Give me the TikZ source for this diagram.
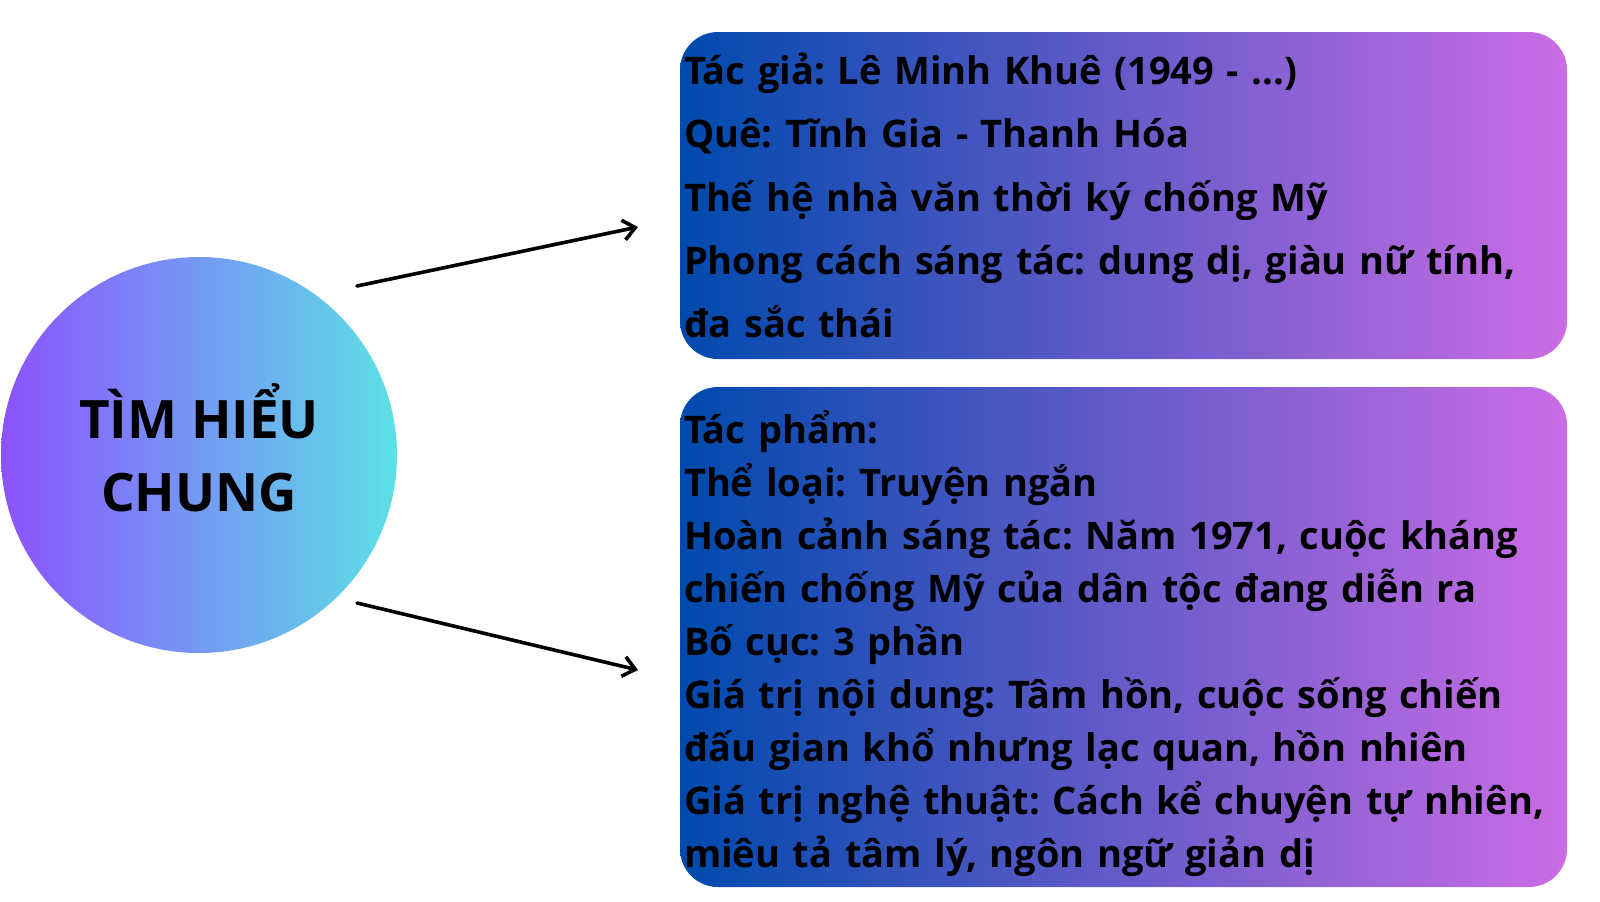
\documentclass[tikz,border=0pt]{standalone}
\usepackage{fontspec}
\setmainfont{Open Sans}
\usetikzlibrary{arrows.meta}
\definecolor{tim}{HTML}{8C52FF}
\definecolor{lam}{HTML}{5CE1E6}
\definecolor{xanh}{HTML}{004AAD}
\definecolor{hong}{HTML}{CB6CE6}
\begin{document}
\frenchspacing
\begin{tikzpicture}[x=0.5pt, y=-0.5pt, line join=round, line cap=round, >={Straight Barb[length=6pt,width=10pt]},
	hop/.style={rounded corners=19pt, left color=xanh, right color=hong, minimum width=443.5pt, inner xsep=2pt, text width=439.5pt, align=left},
	chu/.style={font=\bfseries\fontsize{19}{#1}\selectfont}]
	\useasboundingbox (0,0) rectangle (1600,901); % khung hình
	\node[circle, minimum size=198pt, left color=tim, right color=lam] (tron) at (199,455) {};
	\node[align=center, font=\bfseries\fontsize{26.5}{36.7}\selectfont] (tieude) at ([yshift=3.6pt]tron.center) {TÌM HIỂU\\CHUNG};
	\node[hop, chu=31.6pt, minimum height=163.5pt] (tacgia) at (1123.5,195.5) {Tác giả: Lê Minh Khuê (1949 - ...)\\Quê: Tĩnh Gia - Thanh Hóa\\Thế hệ nhà văn thời ký chống Mỹ\\Phong cách sáng tác: dung dị, giàu nữ tính,\\đa sắc thái};
	\node[hop, chu=26.5pt, minimum height=250pt] (tacpham) at (1123.5,637) {\rule{0pt}{23pt}Tác phẩm:\\Thể loại: Truyện ngắn\\Hoàn cảnh sáng tác: Năm 1971, cuộc kháng\\chiến chống Mỹ của dân tộc đang diễn ra\\Bố cục: 3 phần\\Giá trị nội dung: Tâm hồn, cuộc sống chiến\\đấu gian khổ nhưng lạc quan, hồn nhiên\\Giá trị nghệ thuật: Cách kể chuyện tự nhiên,\\miêu tả tâm lý, ngôn ngữ giản dị};
	\coordinate (a1) at (357,286) ; \coordinate (b1) at (638,227) ;
	\coordinate (a2) at (357,603) ; \coordinate (b2) at (638,670) ;
	\draw[->, line width=1.8pt] (a1) -- (b1);
	\draw[->, line width=1.8pt] (a2) -- (b2);
\end{tikzpicture}
\end{document}
